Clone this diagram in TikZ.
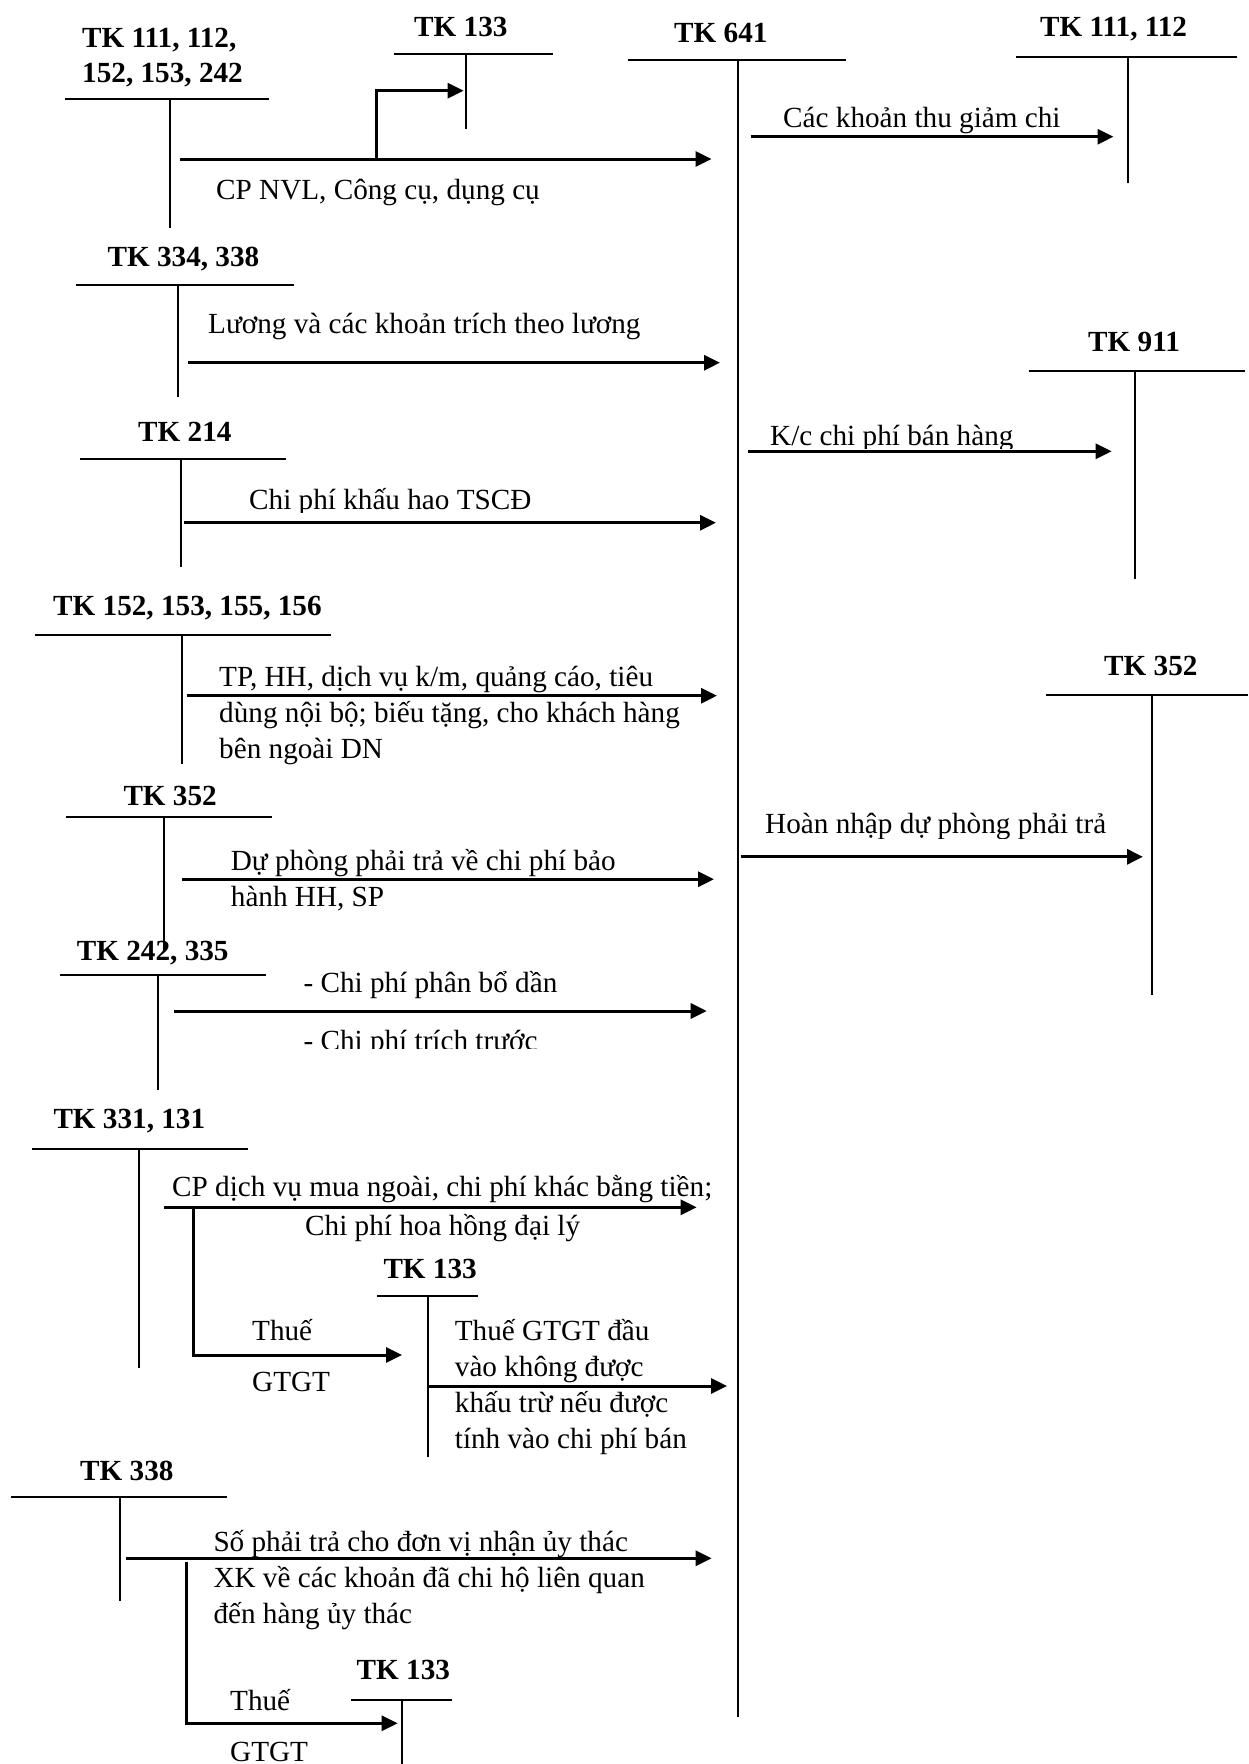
\documentclass[tikz,border=0pt]{standalone}
\usepackage{fontspec}
\setmainfont{Liberation Serif}
\usetikzlibrary{arrows.meta}

% T-account: name, label x, label baseline y, label, bar left x, bar right x, bar y, stem x, stem bottom y
\newcommand{\tacct}[9]{%
  \node[head] (#1) at (#2,#3) {#4};
  \coordinate (#1-l) at (#5,#7);
  \coordinate (#1-r) at (#6,#7);
  \coordinate (#1-t) at (#8,#7);
  \coordinate (#1-b) at (#8,#9);
  \draw[tline] (#1-l) -- (#1-r);
  \draw[tline] (#1-t) -- (#1-b);
}

\begin{document}
\begin{tikzpicture}[x=1pt,y=-1pt,
  lbl/.style={anchor=base west, inner sep=0pt, font=\fontsize{29.2}{36}\selectfont},
  head/.style={lbl, font=\fontsize{29.2}{36}\selectfont\bfseries},
  tline/.style={line width=2pt},
  flow/.style={line width=3pt, -{Triangle[length=16pt,width=15pt]}},
  flowbend/.style={flow, line join=miter}]
\useasboundingbox (0,0) rectangle (1248,1764);

% ---- T-accounts ----
\tacct{tk111a}{82}{47}{TK 111, 112,}{64.5}{269}{99}{170}{228}
\node[head] (tk111b) at (82,82) {152, 153, 242};
\tacct{tk133a}{414}{36}{TK 133}{394}{553}{54.3}{465.6}{129.3}
\tacct{tk641}{674}{42}{TK 641}{628}{846}{60.3}{738}{1717}
\tacct{tk111r}{1040}{36.7}{TK 111, 112}{1016}{1237}{56.7}{1128}{182.7}
\tacct{tk334}{107.4}{266.7}{TK 334, 338}{75.6}{293.7}{285}{178}{397.3}
\tacct{tk911}{1088}{351.3}{TK 911}{1028.5}{1244.6}{371.4}{1134.5}{579}
\tacct{tk214}{138}{441.7}{TK 214}{80}{286}{459}{180.5}{566.7}
\tacct{tk152}{53}{615}{TK 152, 153, 155, 156}{35}{331}{635}{182}{764}
\tacct{tk352r}{1104}{675}{TK 352}{1046}{1248}{695}{1152}{995}
\tacct{tk352l}{123.3}{805}{TK 352}{66}{271.7}{817.3}{164.3}{951.7}
\tacct{tk242}{76.7}{960}{TK 242, 335}{60}{265.7}{975}{157.7}{1090}
\tacct{tk331}{53.3}{1128.3}{TK 331, 131}{32}{248.2}{1149.3}{138.6}{1368.3}
\tacct{tk133m}{383.3}{1278}{TK 133}{377}{478}{1295.5}{428}{1456.7}
\tacct{tk338}{80}{1480}{TK 338}{10.7}{226.9}{1497.3}{120.2}{1600.7}
\tacct{tk133b}{356.5}{1679}{TK 133}{351}{451.7}{1700}{402.3}{1764}

% ---- entry arrows and their end points ----
\coordinate (a1s) at (180,159);      \coordinate (a1e) at (711.5,159);
\coordinate (a1k) at (376,159);      \coordinate (a1c) at (376,90.7);
\coordinate (a1v) at (463.6,90.7);
\coordinate (a2s) at (750.5,136.7);  \coordinate (a2e) at (1113.5,136.7);
\coordinate (a3s) at (188,362.7);    \coordinate (a3e) at (720,362.7);
\coordinate (a4s) at (748.3,451.3);  \coordinate (a4e) at (1111.7,451.3);
\coordinate (a5s) at (184.3,522.7);  \coordinate (a5e) at (716,522.7);
\coordinate (a6s) at (187,695.7);    \coordinate (a6e) at (717,695.7);
\coordinate (a7s) at (741,856.8);    \coordinate (a7e) at (1143,856.8);
\coordinate (a8s) at (182,879.2);    \coordinate (a8e) at (714,879.2);
\coordinate (a9s) at (174,1011);     \coordinate (a9e) at (706.7,1011);
\coordinate (a10s) at (164,1207.3);  \coordinate (a10e) at (696.6,1207.3);
\coordinate (a11s) at (193.5,1207.3); \coordinate (a11c) at (193.5,1355);
\coordinate (a11e) at (402,1355);
\coordinate (a12s) at (428,1386);    \coordinate (a12e) at (727,1386);
\coordinate (a13s) at (126,1558.3);  \coordinate (a13e) at (711.6,1558.3);
\coordinate (a14s) at (186.3,1561.7); \coordinate (a14c) at (186.3,1723.3);
\coordinate (a14e) at (397.7,1723.3);

\draw[flow] (a1s) -- (a1e);
\draw[flowbend] (a1k) -- (a1c) -- (a1v);
\draw[flow] (a2s) -- (a2e);
\draw[flow] (a3s) -- (a3e);
\draw[flow] (a4s) -- (a4e);
\draw[flow] (a5s) -- (a5e);
\draw[flow] (a6s) -- (a6e);
\draw[flow] (a7s) -- (a7e);
\draw[flow] (a8s) -- (a8e);
\draw[flow] (a9s) -- (a9e);
\draw[flow] (a10s) -- (a10e);
\draw[flowbend] (a11s) -- (a11c) -- (a11e);
\draw[flow] (a12s) -- (a12e);
\draw[flow] (a13s) -- (a13e);
\draw[flowbend] (a14s) -- (a14c) -- (a14e);

% ---- entry labels ----
\node[lbl] (l1) at (216,199) {CP NVL, Công cụ, dụng cụ};
\node[lbl] (l2) at (783,127.7) {Các khoản thu giảm chi};
\node[lbl] (l3) at (208,333.3) {Lương và các khoản trích theo lương};
\begin{scope}
  \clip (0,0) rectangle (1248,448.5);
  \node[lbl] (l4) at (770,445) {K/c chi phí bán hàng};
\end{scope}
\begin{scope}
  \clip (0,460) rectangle (1248,512.7);
  \node[lbl] (l5) at (249,509.3) {Chi phí khấu hao TSCĐ};
\end{scope}
\node[lbl] (l6a) at (219,686.7) {TP, HH, dịch vụ k/m, quảng cáo, tiêu};
\node[lbl] (l6b) at (219,722.7) {dùng nội bộ; biếu tặng, cho khách hàng};
\node[lbl] (l6c) at (219,758.3) {bên ngoài DN};
\begin{scope}
  \clip (0,780) rectangle (1248,838.3);
  \node[lbl] (l7) at (765,833.3) {Hoàn nhập dự phòng phải trả};
\end{scope}
\node[lbl] (l8a) at (230.7,870.3) {Dự phòng phải trả về chi phí bảo};
\node[lbl] (l8b) at (230.7,906.5) {hành HH, SP};
\node[lbl] (l9a) at (303.3,992) {- Chi phí phân bổ dần};
\begin{scope}
  \clip (0,1015) rectangle (1248,1048);
  \node[lbl] (l9b) at (303.3,1050) {- Chi phí trích trước};
\end{scope}
\node[lbl] (l10a) at (172,1196) {CP dịch vụ mua ngoài, chi phí khác bằng tiền;};
\begin{scope}
  \clip (0,1212) rectangle (1248,1241.7);
  \node[lbl] (l10b) at (305,1235) {Chi phí hoa hồng đại lý};
\end{scope}
\node[lbl] (l11a) at (252,1340) {Thuế};
\node[lbl] (l11b) at (252,1391.7) {GTGT};
\node[lbl] (l12a) at (454.7,1340) {Thuế GTGT đầu};
\node[lbl] (l12b) at (454.7,1376) {vào không được};
\node[lbl] (l12c) at (454.7,1412.7) {khấu trừ nếu được};
\node[lbl] (l12d) at (454.7,1448.3) {tính vào chi phí bán};
\node[lbl] (l13a) at (213.3,1551.7) {Số phải trả cho đơn vị nhận ủy thác};
\node[lbl] (l13b) at (213.3,1587.3) {XK về các khoản đã chi hộ liên quan};
\node[lbl] (l13c) at (213.3,1623.3) {đến hàng ủy thác};
\node[lbl] (l14a) at (230,1710.7) {Thuế};
\node[lbl] (l14b) at (230,1761) {GTGT};
\end{tikzpicture}
\end{document}
